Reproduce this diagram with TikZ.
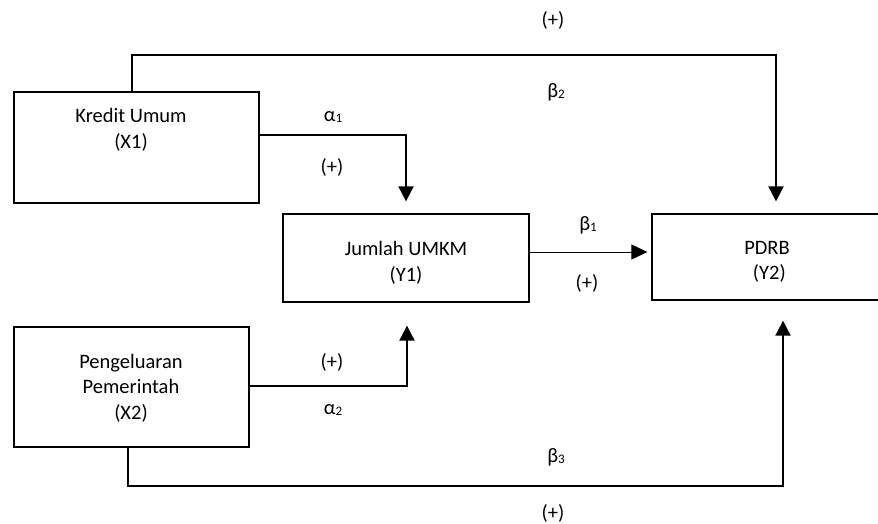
\documentclass[tikz,border=0pt]{standalone}
\usepackage{fontspec}
\setmainfont{Carlito}
\usetikzlibrary{arrows.meta}

% small lowered digit used as an index on the path coefficients
\newcommand{\idx}[1]{\raisebox{-1.5pt}{\fontsize{13}{13}\selectfont #1}}

\tikzset{
  varbox/.style={draw, line width=1.3pt, minimum width=#1, inner sep=0pt},
  txt/.style={align=center, inner sep=0pt, font=\fontsize{20.5}{25.5}\selectfont},
  lbl/.style={inner sep=0pt, font=\fontsize{20.5}{25.5}\selectfont},
  link/.style={line width=2pt, -{Triangle[length=15pt,width=15pt]}},
  thinlink/.style={line width=1pt, -{Triangle[length=16pt,width=15pt]}}
}

\begin{document}
\begin{tikzpicture}[x=1pt, y=-1pt]
  \useasboundingbox (0,0) rectangle (878,523);
  \clip (0,0) rectangle (878,523);

  % variable boxes
  \node[varbox=245pt, minimum height=111pt] (x1) at (136.5,147.5) {};
  \node[varbox=246pt, minimum height=88pt]  (y1) at (406,258) {};
  \node[varbox=235pt, minimum height=120pt] (x2) at (131.5,387) {};
  \node[varbox=228pt, minimum height=86pt]  (pdrb) at (766,257) {};

  % box texts
  \node[txt] (x1t) at (131,130) {Kredit Umum\\(X1)};
  \node[txt] (y1t) at (406,263) {Jumlah UMKM\\(Y1)};
  \node[txt] (x2t) at (131,388) {Pengeluaran\\Pemerintah\\(X2)};
  \node[txt] (pdrbt) at (767,262) {PDRB\\\ (Y2)};

  % rows used by the outer connectors
  \coordinate (toprow) at (0,55);
  \coordinate (botrow) at (0,486);

  % connectors
  \draw[link] ([xshift=-4.5pt]x1.north) -- ([xshift=-4.5pt]x1.north |- toprow)
              -| ([xshift=10pt,yshift=12pt]pdrb.north);
  \draw[link] ([yshift=12.5pt]x1.east) -| ([yshift=12pt]y1.north);
  \draw[link] ([yshift=1pt]x2.east) -| ([xshift=1pt,yshift=-23pt]y1.south);
  \draw[thinlink] ([yshift=6pt]y1.east) -- ([xshift=-4pt,yshift=5pt]pdrb.west);
  \draw[link] ([xshift=-3.5pt]x2.south) -- ([xshift=-3.5pt]x2.south |- botrow)
              -| ([xshift=17pt,yshift=-20pt]pdrb.south);

  % coefficient labels
  \node[lbl] (p0) at (553,20)  {(+)};
  \node[lbl] (b2) at (556,92)  {β\idx{2}};
  \node[lbl] (a1) at (333,117) {α\idx{1}};
  \node[lbl] (p1) at (332,167) {(+)};
  \node[lbl] (b1) at (588,225) {β\idx{1}};
  \node[lbl] (p2) at (587,283) {(+)};
  \node[lbl] (p3) at (332,362) {(+)};
  \node[lbl] (a2) at (333,410) {α\idx{2}};
  \node[lbl] (b3) at (556,457) {β\idx{3}};
  \node[lbl] (p4) at (553,513) {(+)};
\end{tikzpicture}
\end{document}
